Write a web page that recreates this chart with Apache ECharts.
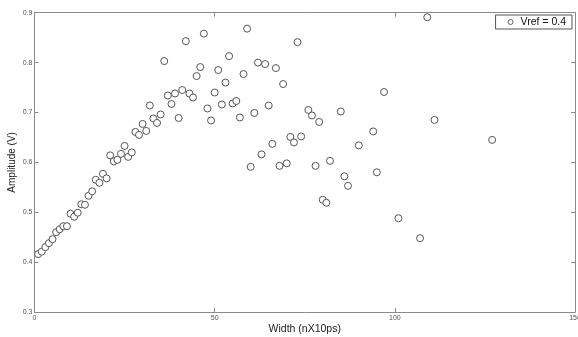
<!DOCTYPE html>
<html><head><meta charset="utf-8">
<script src="https://cdn.jsdelivr.net/npm/echarts@6/dist/echarts.min.js"></script>
<style>html,body{margin:0;padding:0;background:#fff}#c{width:578px;height:337px}</style>
</head><body><div id="c"></div>
<script>
const widths = [1,2,3,4,5,6,7,8,9,10,11,12,13,14,15,16,17,18,19,20,
  21,22,23,24,25,26,27,28,29,30,31,32,33,34,35,36,37,38,39,40,
  41,42,43,44,45,46,47,48,49,50,51,52,53,54,55,56,57,58,59,60,
  61,62,63,64,65,66,67,68,69,70,71,72,73,74,76,77,78,79,80,81,
  82,85,86,87,90,94,95,97,101,107,109,111,127];
const amplitudes = [0.416,0.421,0.430,0.438,0.446,0.460,0.466,0.472,0.472,0.497,
  0.491,0.499,0.516,0.515,0.533,0.542,0.565,0.559,0.577,0.568,
  0.614,0.602,0.605,0.617,0.633,0.611,0.620,0.661,0.655,0.677,
  0.663,0.714,0.688,0.679,0.696,0.803,0.734,0.717,0.738,0.689,
  0.745,0.843,0.738,0.730,0.773,0.791,0.858,0.708,0.684,0.740,
  0.785,0.716,0.760,0.813,0.718,0.723,0.690,0.777,0.868,0.591,
  0.699,0.800,0.616,0.797,0.714,0.637,0.789,0.593,0.757,0.598,
  0.651,0.640,0.841,0.652,0.705,0.694,0.593,0.681,0.525,0.519,
  0.603,0.702,0.572,0.553,0.634,0.662,0.580,0.741,0.488,0.448,
  0.891,0.685,0.645];
const seriesName = 'Vref = 0.4';
const xTitle = 'Width (nX10ps)';
const yTitle = 'Amplitude (V)';

const pts = widths.map((w, i) => [w, amplitudes[i]]);
const axisCol = '#8a8a8a';
const lblCol = '#555';
const chart = echarts.init(document.getElementById('c'), null, {renderer: 'canvas'});
const baseX = {type: 'value', min: 0, max: 150, interval: 50,
  axisLine: {show: true, onZero: false, lineStyle: {color: axisCol, width: 1}},
  axisTick: {show: true, inside: true, length: 4, lineStyle: {color: axisCol}},
  splitLine: {show: false}};
const baseY = {type: 'value', min: 0.3, max: 0.9, interval: 0.1,
  axisLine: {show: true, onZero: false, lineStyle: {color: axisCol, width: 1}},
  axisTick: {show: true, inside: true, length: 4, lineStyle: {color: axisCol}},
  splitLine: {show: false}};
chart.setOption({
  animation: false,
  backgroundColor: '#fff',
  grid: {left: 34.5, right: 3, top: 12.7, bottom: 25, containLabel: false, outerBoundsMode: 'none'},
  legend: {show: true, right: 6, top: 15, orient: 'horizontal',
    borderColor: '#555', borderWidth: 1, padding: [1, 6, 1, 12],
    itemWidth: 10, itemHeight: 5, itemGap: 4,
    itemStyle: {color: '#fff', borderColor: '#666', borderWidth: 1},
    textStyle: {fontFamily: 'Liberation Sans, Arial', fontSize: 10.5, color: '#111', lineHeight: 12},
    data: [{name: seriesName, icon: 'circle'}]},
  xAxis: [
    Object.assign({}, baseX, {position: 'bottom',
      name: xTitle, nameLocation: 'middle', nameGap: 12, nameMoveOverlap: false,
      nameTextStyle: {fontFamily: 'Liberation Sans, Arial', fontSize: 10.5, color: '#222'},
      axisLabel: {show: true, margin: 3, fontSize: 7, color: lblCol, fontFamily: 'Liberation Sans, Arial'}}),
    Object.assign({}, baseX, {position: 'top', axisLabel: {show: false}})
  ],
  yAxis: [
    Object.assign({}, baseY, {position: 'left',
      name: yTitle, nameLocation: 'middle', nameGap: 17, nameRotate: 90, nameMoveOverlap: false,
      nameTextStyle: {fontFamily: 'Liberation Sans, Arial', fontSize: 10, color: '#222'},
      axisLabel: {show: true, margin: 2, fontSize: 7, color: lblCol, fontFamily: 'Liberation Sans, Arial',
        formatter: v => v.toFixed(1)}}),
    Object.assign({}, baseY, {position: 'right', axisLabel: {show: false}})
  ],
  series: [{
    name: seriesName, type: 'scatter', symbol: 'circle', symbolSize: 7,
    itemStyle: {color: '#fff', borderColor: '#555', borderWidth: 1, opacity: 1},
    data: pts, xAxisIndex: 0, yAxisIndex: 0
  }]
});
</script></body></html>
